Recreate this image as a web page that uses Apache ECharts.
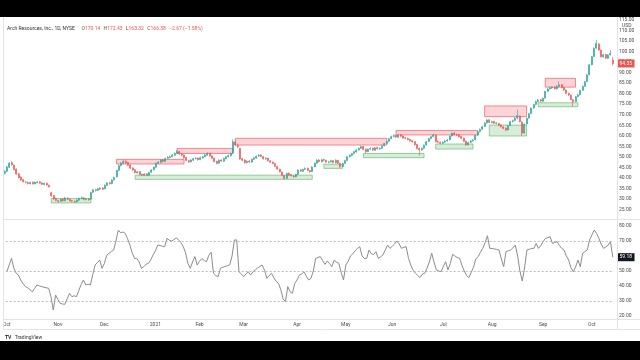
<!DOCTYPE html>
<html>
<head>
<meta charset="utf-8">
<script src="https://cdn.jsdelivr.net/npm/echarts@6/dist/echarts.min.js"></script>
<style>html,body{margin:0;padding:0;background:#fff;}#c{width:640px;height:360px;}</style>
</head>
<body>
<div id="c"></div>
<script>
// ---- DATA ----
const firstDay = '2020-10-01';
const holidays = ['2020-11-26','2020-12-25','2021-01-01','2021-01-18','2021-02-15','2021-04-02','2021-05-31','2021-07-05','2021-09-06'];
const monthNames = ['Jan','Feb','Mar','Apr','May','Jun','Jul','Aug','Sep','Oct','Nov','Dec'];
const priceTicks = {min: 20, max: 115, step: 5};
const rsiTicks = {min: 20, max: 80, step: 10};
const rsiLevels = [70, 50, 30];
const lastPrice = 94.35;
const lastRsi = 59.18;
const titleName = 'Arch Resources, Inc., 1D, NYSE';
const titleValues = ['O', '170.14', 'H', '172.43', 'L', '163.32', 'C', '166.38', '−2.67 (−1.58%)'];

// daily candles: [open, close, low, high]
const candles = [
[42.2,43.0,41.6,43.6],[43.1,45.2,42.8,45.8],[45.0,47.0,44.7,47.6],[47.2,46.3,45.8,47.9],[46.0,44.0,43.6,46.4],
[44.2,41.8,41.4,44.5],[42.0,40.1,39.7,42.3],[40.3,39.0,38.6,40.8],[39.1,38.2,37.8,39.5],[38.0,37.9,37.4,38.6],
[37.8,37.3,36.9,38.3],[37.2,37.8,36.9,38.2],[37.9,37.2,36.8,38.3],[37.1,37.9,36.9,38.3],[37.7,38.1,37.4,38.6],
[38.2,37.5,37.2,38.5],[37.6,37.0,36.6,37.9],[36.9,37.4,36.5,37.8],[37.5,36.6,36.3,37.7],[36.5,35.8,35.4,36.8],
[33.0,31.5,31.0,33.4],[31.6,30.0,29.6,31.9],[30.2,29.3,28.9,30.6],[29.1,28.8,28.3,29.6],[28.9,29.8,28.6,30.2],
[29.9,29.2,28.8,30.3],[29.1,30.5,28.9,31.0],[30.4,29.9,29.5,30.8],[29.8,29.1,28.7,30.1],[29.2,28.9,28.5,29.6],
[28.8,28.6,28.1,29.3],[28.7,29.5,28.4,29.9],[29.4,30.2,29.1,30.6],[30.1,30.6,29.8,31.1],[30.5,29.8,29.4,30.9],
[29.7,30.0,29.3,30.4],[30.1,29.6,29.1,30.4],[29.9,33.0,29.7,33.4],[33.2,34.3,32.8,34.9],[34.4,34.0,33.5,34.9],
[34.1,34.8,33.8,35.3],[34.7,35.1,34.3,35.6],[35.2,34.6,34.2,35.6],[34.8,36.5,34.6,36.9],[36.4,37.6,36.1,38.0],
[37.7,37.2,36.8,38.2],[37.3,39.0,37.0,39.4],[39.1,40.2,38.7,40.6],[40.5,43.5,40.2,43.9],[43.6,45.8,43.2,46.3],
[45.9,46.9,45.4,47.5],[47.0,47.8,46.5,48.6],[47.9,47.2,46.6,48.4],[47.3,46.0,45.6,47.6],[46.1,44.6,44.2,46.4],
[44.7,43.8,43.3,45.0],[43.9,42.5,42.1,44.1],[42.4,42.9,42.0,43.3],[43.0,41.6,41.2,43.2],[41.7,41.3,40.8,42.0],
[41.2,41.9,40.9,42.3],[42.0,41.2,40.8,42.2],[41.3,42.6,41.0,43.0],[42.7,43.8,42.4,44.2],[43.9,45.0,43.5,45.5],
[45.1,46.9,44.8,47.3],[47.0,47.5,46.5,48.0],[47.4,48.4,47.1,48.9],[48.5,47.9,47.4,48.8],[47.8,49.2,47.5,49.6],
[49.3,49.8,48.9,50.3],[49.7,50.0,49.3,50.6],[50.1,50.9,49.8,51.3],[50.8,51.6,50.5,52.1],[51.7,52.4,51.3,53.3],
[52.5,51.3,50.9,52.8],[51.4,50.8,50.3,51.8],[50.9,49.6,49.2,51.1],[49.7,48.3,47.9,49.9],[48.2,47.6,47.1,48.6],
[47.7,48.5,47.3,48.9],[48.4,49.1,48.0,49.5],[49.2,49.3,48.7,49.9],[49.4,48.6,48.2,49.7],[48.7,49.6,48.4,50.1],
[49.5,50.0,49.1,50.4],[50.1,50.9,49.8,51.3],[50.8,51.6,50.5,52.2],[51.7,50.4,50.0,51.9],[50.5,49.3,48.9,50.7],
[49.4,47.8,47.4,49.6],[47.9,46.9,46.4,48.2],[47.0,48.4,46.7,48.8],[48.5,48.0,47.5,48.9],[47.9,49.2,47.6,49.6],
[49.1,50.0,48.8,50.4],[50.1,50.6,49.7,51.1],[50.5,51.6,50.2,52.0],[51.8,57.2,51.5,58.3],[57.0,55.6,55.0,57.8],
[55.5,54.8,54.2,56.3],[54.0,49.0,48.6,54.3],[49.1,48.4,47.9,49.6],[48.5,47.2,46.8,48.8],[47.3,47.9,46.9,48.3],
[48.0,47.6,47.1,48.5],[47.5,48.8,47.2,49.2],[48.9,49.5,48.5,49.9],[49.4,50.3,49.1,50.7],[50.4,50.8,50.0,51.3],
[50.9,50.2,49.8,51.2],[50.1,49.1,48.7,50.4],[49.0,49.3,48.6,49.8],[49.4,48.2,47.8,49.6],[48.1,47.4,47.0,48.4],
[47.5,46.9,46.4,47.8],[46.8,45.5,45.1,47.1],[45.4,44.2,43.8,45.7],[44.1,42.9,42.5,44.4],[42.8,41.2,40.8,43.0],
[41.1,39.7,39.3,41.4],[39.8,42.1,39.5,42.5],[42.2,41.4,41.0,42.6],[41.5,41.0,40.6,41.8],[40.9,40.5,40.0,41.3],
[40.6,41.6,40.3,42.0],[41.7,43.7,41.4,44.1],[43.8,43.2,42.8,44.2],[43.1,44.0,42.8,44.4],[44.1,44.5,43.7,45.0],
[44.6,43.6,43.2,44.9],[43.5,42.9,42.4,43.8],[43.0,45.2,42.7,45.6],[45.3,46.9,45.0,47.3],[47.0,48.4,46.7,48.9],
[48.5,47.8,47.3,48.9],[47.7,48.6,47.4,49.1],[48.7,48.4,47.9,49.2],[48.3,47.5,47.1,48.6],[47.4,47.6,47.0,48.1],
[47.7,48.1,47.3,48.6],[48.2,47.3,46.9,48.5],[47.2,48.4,46.9,48.8],[48.3,47.0,46.6,48.6],[46.9,45.3,44.8,47.1],
[45.4,46.8,45.1,47.2],[46.9,48.2,46.6,48.6],[48.3,50.0,48.0,50.4],[50.1,50.8,49.7,51.2],[50.7,51.5,50.3,51.9],
[51.6,52.4,51.2,52.9],[52.3,53.2,52.0,53.6],[53.3,54.0,52.9,54.5],[54.1,54.8,53.7,55.3],[54.9,53.5,53.1,55.1],
[53.6,52.4,51.6,53.9],[52.5,53.6,52.2,54.0],[53.7,54.0,53.3,54.5],[54.1,53.2,52.8,54.4],[53.1,54.3,52.8,54.7],
[54.4,53.8,53.4,54.8],[53.7,54.0,53.3,54.5],[54.1,55.2,53.8,55.6],[55.3,56.3,55.0,56.7],[56.4,57.2,56.0,57.7],
[57.3,58.6,57.0,59.0],[58.7,59.6,58.3,60.1],[59.7,60.1,59.2,60.7],[60.2,59.4,59.0,60.5],[59.3,60.4,59.0,60.9],
[60.5,59.8,59.3,60.8],[59.9,59.0,58.6,60.2],[59.1,58.8,58.3,59.5],[58.7,58.2,57.8,59.2],[58.3,57.6,57.2,58.6],
[57.7,57.2,56.7,58.1],[57.3,55.8,55.4,57.5],[55.9,54.0,53.6,56.1],[54.1,53.4,50.5,54.4],[53.3,54.0,52.9,54.4],
[54.1,55.5,53.8,55.9],[55.6,57.2,55.3,57.6],[57.3,58.6,57.0,59.0],[58.7,59.6,58.3,60.0],[59.7,60.4,59.3,61.0],
[60.3,57.2,56.8,60.6],[57.3,57.0,56.5,57.8],[56.9,56.4,55.9,57.3],[56.5,56.9,56.1,57.4],[57.0,57.5,56.6,58.0],
[57.6,58.0,57.2,58.5],[58.1,59.8,57.8,60.2],[59.9,61.2,59.6,61.6],[61.3,60.6,60.1,61.7],[60.5,60.4,59.9,61.0],
[60.5,59.6,59.2,60.8],[59.7,58.8,58.4,60.0],[58.9,57.4,57.0,59.1],[57.5,55.6,55.2,57.7],[55.7,56.8,55.4,57.2],
[56.9,57.5,56.5,58.0],[57.6,58.0,57.2,58.5],[58.1,60.2,57.8,60.6],[60.3,61.9,60.0,62.3],[62.0,63.0,61.6,63.5],
[63.1,64.3,62.8,64.8],[64.4,66.0,64.1,66.5],[66.1,67.5,65.8,68.0],[67.6,66.4,66.0,67.9],[66.3,66.7,65.9,67.2],
[66.8,66.0,65.6,67.1],[66.1,65.9,65.4,66.5],[65.8,65.0,64.6,66.1],[65.1,64.3,63.9,65.4],[64.2,63.5,63.1,64.6],
[63.6,62.7,62.2,64.0],[62.8,64.8,62.5,65.2],[64.9,66.7,64.6,67.1],[66.8,67.2,66.3,67.7],[67.3,68.3,67.0,68.9],
[68.4,69.5,67.9,72.3],[69.4,66.7,66.3,69.7],[66.5,61.2,60.0,66.8],[61.3,65.5,61.0,65.9],[65.6,68.3,65.3,68.7],
[68.4,70.5,68.1,70.9],[70.6,73.1,70.3,73.5],[73.2,74.8,72.9,75.2],[74.9,76.2,74.5,76.7],[76.3,77.0,75.9,77.6],
[77.1,76.5,76.0,77.5],[76.4,77.8,76.1,78.2],[77.9,81.0,77.6,81.4],[81.1,82.2,80.7,82.7],[82.3,82.6,81.9,83.3],
[82.7,83.0,82.2,83.6],[83.1,82.4,81.9,83.5],[82.3,83.4,82.0,84.0],[83.5,84.2,83.1,85.9],[84.3,83.0,82.5,84.6],
[82.9,81.8,81.3,83.2],[81.7,80.2,79.8,82.0],[80.1,79.4,78.9,80.5],[79.3,77.2,76.8,79.6],[77.1,76.2,73.8,77.5],
[76.3,78.6,76.0,79.0],[78.7,79.4,78.3,79.9],[79.5,81.5,79.2,81.9],[81.6,83.4,81.3,83.8],[83.5,85.7,83.2,86.1],
[85.8,88.9,85.5,89.3],[89.0,93.7,88.7,94.1],[93.8,97.6,93.5,98.0],[97.7,101.6,97.4,102.0],[101.7,103.8,101.2,105.6],
[103.6,100.8,100.3,104.0],[100.7,97.6,97.2,101.0],[97.5,98.5,97.1,99.0],[98.6,96.9,96.4,98.9],[96.8,98.4,96.5,98.8],
[98.5,99.2,98.1,100.8],[96.0,94.35,93.3,97.4]
];

const rsiValues = [
49.5,54.0,58.4,52.0,48.5,47.3,44.0,41.5,39.6,38.8,37.5,36.2,38.5,40.7,40.0,39.6,39.2,38.8,38.5,33.0,
24.0,34.0,31.0,28.4,28.0,27.8,31.5,35.1,32.9,33.5,32.9,37.0,41.0,44.0,40.7,41.2,40.7,47.5,54.0,55.5,
57.3,51.8,55.0,60.5,61.8,63.0,64.0,70.0,77.3,75.5,76.0,75.1,71.5,67.3,62.0,58.4,58.4,56.0,51.8,53.0,
54.5,55.1,57.5,60.7,63.5,67.3,67.0,66.5,66.2,71.8,70.5,70.0,71.0,72.2,70.5,69.0,66.2,62.0,55.0,51.8,
56.0,59.6,54.0,56.5,58.4,57.0,56.2,60.5,62.5,48.5,47.0,46.2,51.8,52.5,53.0,53.5,54.0,60.0,70.7,70.7,
49.5,48.0,46.2,48.0,49.5,47.3,49.5,50.7,52.0,53.0,54.0,50.5,45.1,47.0,48.5,45.5,43.0,41.8,37.5,31.5,
29.5,39.6,36.2,35.1,41.8,44.0,47.3,48.0,49.5,46.5,44.0,45.1,50.0,58.4,59.0,59.6,57.0,54.4,56.7,55.0,
52.9,57.3,56.0,55.1,49.0,44.0,54.0,56.5,60.0,61.5,63.5,65.0,66.2,60.0,58.4,58.4,64.0,61.5,61.0,62.9,
58.4,59.5,60.7,64.0,67.3,65.1,66.5,68.0,70.0,68.0,65.1,65.8,66.2,58.4,54.0,50.5,48.5,47.0,45.6,48.0,
48.5,52.0,56.0,61.8,56.0,50.7,50.0,49.5,53.0,56.2,50.7,55.0,61.1,60.0,59.0,58.4,54.0,50.0,47.0,45.6,
49.0,52.5,58.0,59.6,62.5,65.1,69.0,73.5,65.1,65.0,64.7,64.4,64.0,58.0,52.9,62.9,63.5,64.0,65.5,67.3,
60.0,50.0,43.3,52.0,64.0,64.5,65.0,65.1,68.4,65.1,67.0,69.6,71.8,72.2,72.9,68.4,69.0,69.6,67.0,65.1,
64.0,60.0,57.3,52.0,49.5,52.9,57.3,52.9,61.8,63.0,64.0,70.7,74.0,77.3,75.1,71.8,68.0,65.1,66.0,67.3,
69.6,59.18
];

// zones: [startIndex, endIndex, low, high]
const supplyZones = [
[48,77,46.6,48.8],[74,98,51.6,54.0],[99,164,55.6,58.8],[168,203,60.4,62.5],[206,224,69.1,74.2],[232,245,83.1,87.3]
];
const demandZones = [
[20,37,28.1,30.2],[56,132,39.3,41.3],[137,145,44.5,46.5],[154,180,49.6,51.6],[185,201,53.7,56.1],[208,224,59.9,65.1],[229,246,73.8,75.7]
];

// ---- build trading-day categories ----
function tradingDays(n) {
  const out = [];
  let t = Date.parse(firstDay + 'T00:00:00Z');
  while (out.length < n) {
    const d = new Date(t);
    const s = d.toISOString().slice(0, 10);
    const wd = d.getUTCDay();
    if (wd !== 0 && wd !== 6 && holidays.indexOf(s) < 0) out.push(s);
    t += 86400000;
  }
  return out;
}
const dates = tradingDays(candles.length);

const UP = '#26a69a', DOWN = '#ef5350';
const LINE = '#e0e3eb', TXT = '#4a4a4a';

const redStyle = {color: 'rgba(242,54,69,0.22)', borderColor: 'rgba(242,54,69,0.55)', borderWidth: 1};
const greenStyle = {color: 'rgba(76,175,80,0.22)', borderColor: 'rgba(76,175,80,0.55)', borderWidth: 1};
const zones = supplyZones.map(z => [{xAxis: dates[z[0]], yAxis: z[2], itemStyle: redStyle}, {xAxis: dates[z[1]], yAxis: z[3]}])
  .concat(demandZones.map(z => [{xAxis: dates[z[0]], yAxis: z[2], itemStyle: greenStyle}, {xAxis: dates[z[1]], yAxis: z[3]}]));

const band = 2.33;
const gridLeft = 3.5;
const gridWidth = band * candles.length;

const chart = echarts.init(document.getElementById('c'), null, {renderer: 'canvas'});
const fmt2 = v => Number(v).toFixed(2);
const HIDE = 'rgba(0,0,0,0)';

chart.setOption({
  animation: false,
  backgroundColor: '#ffffff',
  grid: [
    {left: gridLeft, width: gridWidth, top: 20, height: 200},
    {left: gridLeft, width: gridWidth, top: 226, height: 90}
  ],
  xAxis: [
    {type: 'category', gridIndex: 0, data: dates, boundaryGap: true,
     axisLine: {show: false}, axisTick: {show: false}, axisLabel: {show: false}, splitLine: {show: false}},
    {type: 'category', gridIndex: 1, data: dates, boundaryGap: true,
     axisLine: {show: false}, axisTick: {show: false}, splitLine: {show: false},
     axisLabel: {
       show: true, fontSize: 5, color: TXT, margin: 6, fontFamily: 'Roboto',
       interval: (i) => i === 0 || dates[i].slice(5, 7) !== dates[i - 1].slice(5, 7),
       formatter: (v) => { const m = +v.slice(5, 7); return m === 1 ? v.slice(0, 4) : monthNames[m - 1]; }
     }}
  ],
  yAxis: [
    {type: 'value', gridIndex: 0, position: 'right', min: priceTicks.min, max: priceTicks.max, interval: priceTicks.step,
     axisLine: {show: false}, axisTick: {show: false}, splitLine: {show: false},
     axisLabel: {fontSize: 5, color: TXT, margin: 5, formatter: fmt2, showMinLabel: false, fontFamily: 'Roboto'}},
    {type: 'value', gridIndex: 1, position: 'right', min: rsiTicks.min, max: rsiTicks.max, interval: rsiTicks.step,
     axisLine: {show: false}, axisTick: {show: false}, splitLine: {show: false},
     axisLabel: {fontSize: 5, color: TXT, margin: 5, formatter: fmt2, fontFamily: 'Roboto'}}
  ],
  series: [
    {type: 'candlestick', xAxisIndex: 0, yAxisIndex: 0, barWidth: 1.5,
     data: candles,
     itemStyle: {color: UP, color0: DOWN, borderColor: UP, borderColor0: DOWN, borderWidth: 0.6},
     markArea: {silent: true, data: zones},
     markLine: {silent: true, symbol: 'none', z: 20,
       data: [{yAxis: lastPrice, lineStyle: {color: HIDE, width: 1},
         label: {show: true, position: 'end', distance: 3, formatter: fmt2(lastPrice), fontSize: 5,
           color: '#fff', backgroundColor: DOWN, padding: [1.5, 2.5], fontFamily: 'Roboto'}}]}
    },
    {type: 'line', xAxisIndex: 1, yAxisIndex: 1, data: rsiValues, symbol: 'none',
     lineStyle: {color: '#8c8c8c', width: 1}, itemStyle: {color: '#8c8c8c'},
     markLine: {silent: true, symbol: 'none', z: 20,
       data: rsiLevels.map(v => ({yAxis: v, lineStyle: {type: [2, 2], color: '#a8abb3', width: 0.8}, label: {show: false}}))
         .concat([{yAxis: lastRsi, lineStyle: {color: HIDE, width: 1},
           label: {show: true, position: 'end', distance: 3, formatter: fmt2(lastRsi), fontSize: 5,
             color: '#fff', backgroundColor: '#131722', padding: [1.5, 2.5], fontFamily: 'Roboto'}}])}
    }
  ],
  graphic: [
    {type: 'line', shape: {x1: 3.5, y1: 17, x2: 3.5, y2: 329.5}, style: {stroke: LINE, lineWidth: 1}, z: 50},
    {type: 'line', shape: {x1: 617.5, y1: 17, x2: 617.5, y2: 329.5}, style: {stroke: LINE, lineWidth: 1}, z: 50},
    {type: 'line', shape: {x1: 3.5, y1: 219.5, x2: 640, y2: 219.5}, style: {stroke: LINE, lineWidth: 1}, z: 50},
    {type: 'line', shape: {x1: 3.5, y1: 319.5, x2: 640, y2: 319.5}, style: {stroke: LINE, lineWidth: 1}, z: 50},
    {type: 'line', shape: {x1: 3.5, y1: 329.5, x2: 640, y2: 329.5}, style: {stroke: LINE, lineWidth: 1}, z: 50},
    {type: 'text', left: 7, top: 22.5, z: 60, style: {
      text: '{n|' + titleName + '}  {k|' + titleValues[0] + '}{v|' + titleValues[1] + '} {k|' + titleValues[2] + '}{v|' + titleValues[3] +
            '} {k|' + titleValues[4] + '}{v|' + titleValues[5] + '} {k|' + titleValues[6] + '}{v|' + titleValues[7] + '} {v|' + titleValues[8] + '}',
      rich: {n: {fontSize: 5, fill: '#333', fontFamily: 'Roboto'}, k: {fontSize: 5, fill: '#555', fontFamily: 'Roboto'}, v: {fontSize: 5, fill: DOWN, fontFamily: 'Roboto'}}
    }},
    {type: 'text', left: 622, top: 23.5, z: 60, style: {text: 'USD', fontSize: 5, fill: TXT, fontFamily: 'Roboto'}},
    {type: 'text', left: 5, top: 332, z: 60, style: {text: '{b|TV} {t|TradingView}', rich: {b: {fontSize: 5, fontWeight: 'bold', fill: '#131722'}, t: {fontSize: 5, fill: '#333', fontFamily: 'Roboto'}}}},
    {type: 'rect', shape: {x: 0, y: 0, width: 640, height: 17}, style: {fill: '#000'}, z: 100},
    {type: 'rect', shape: {x: 0, y: 341, width: 640, height: 19}, style: {fill: '#000'}, z: 100}
  ]
});
</script>
</body>
</html>
